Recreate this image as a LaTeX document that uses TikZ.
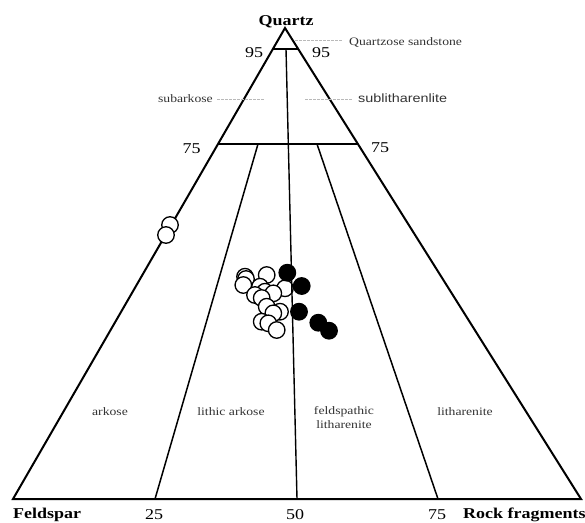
\documentclass[tikz,border=0pt]{standalone}
\usepackage{fontspec}
\setmainfont{Liberation Serif}[FakeStretch=1.2]
\newfontfamily\sansf{Liberation Sans}[FakeStretch=1.2]
\usetikzlibrary{calc}
\tikzset{
  edge/.style={line width=2pt, line join=miter},
  divider/.style={line width=1.5pt},
  leader/.style={gray!55, line width=0.6pt, dash pattern=on 3pt off 1pt},
  apexlbl/.style={font=\fontsize{15}{15}\selectfont\bfseries, inner sep=0pt},
  numlbl/.style={font=\fontsize{15}{15}\selectfont, inner sep=0pt},
  fieldlbl/.style={font=\fontsize{11.4}{13.5}\selectfont, text=black!80, inner sep=0pt, align=center},
  wpt/.style={circle, draw=black, fill=white, line width=1.3pt, minimum size=16.5pt, inner sep=0pt},
  bpt/.style={circle, draw=black, fill=black, line width=1.3pt, minimum size=16.5pt, inner sep=0pt}
}
\begin{document}
\begin{tikzpicture}[x=1pt,y=-1pt]
\useasboundingbox (0,0) rectangle (585,522);
% corners
\coordinate (Q) at (285,28);
\coordinate (F) at (13,499);
\coordinate (R) at (581,499);
\coordinate (q95l) at ($(Q)!0.0446!(F)$);
\coordinate (q95r) at ($(Q)!0.0446!(R)$);
\coordinate (q75l) at ($(Q)!0.2463!(F)$);
\coordinate (q75r) at ($(Q)!0.2463!(R)$);
\coordinate (m95) at (286,49);
\coordinate (m0) at (297,499);
\coordinate (a75) at (258,144);
\coordinate (a0) at (155,499);
\coordinate (b75) at (317,144);
\coordinate (b0) at (438,499);
% outline
\draw[edge] (Q) -- (F) -- (R) -- cycle;
\draw[divider] (q95l) -- (q95r);
\draw[divider] (q75l) -- (q75r);
\draw[divider] (a75) -- (a0);
\draw[divider] (b75) -- (b0);
% points
\node[wpt] (e1) at (170,225) {};
\node[wpt] (e2) at (166,235) {};
\node[wpt] (w1) at (266.7,275) {};
\node[wpt] (w2) at (245,276.7) {};
\node[wpt] (w3) at (246,279) {};
\node[wpt] (w4) at (243.3,285) {};
\node[wpt] (w5) at (260,286.7) {};
\node[wpt] (w6) at (285,288.3) {};
\node[wpt] (w7) at (265,291.7) {};
\node[wpt] (w8) at (273.3,293.3) {};
\node[wpt] (w9) at (255,295) {};
\node[wpt] (w10) at (261.7,298) {};
\node[wpt] (w11) at (266.7,306.7) {};
\node[wpt] (w12) at (280,311.7) {};
\node[wpt] (w13) at (273.3,313.3) {};
\node[wpt] (w14) at (261.7,321.7) {};
\node[wpt] (w15) at (268.3,323.3) {};
\node[wpt] (w16) at (276.7,330) {};
\node[bpt] (b1) at (287.3,272.7) {};
\node[bpt] (b2) at (301.7,286) {};
\node[bpt] (b3) at (299,311.7) {};
\node[bpt] (b4) at (318.3,322.7) {};
\node[bpt] (b5) at (329,330.7) {};
\draw[line width=1.4pt] (m95) -- (m0);
% leaders
\coordinate (l1a) at (295,40); \coordinate (l1b) at (343,40);
\coordinate (l2a) at (217,99); \coordinate (l2b) at (265,99);
\coordinate (l3a) at (305,99); \coordinate (l3b) at (353,99);
\draw[leader] (l1a) -- (l1b);
\draw[leader] (l2a) -- (l2b);
\draw[leader] (l3a) -- (l3b);
% labels
\node[apexlbl, anchor=base] (tQ) at (286,25) {Quartz};
\node[apexlbl, anchor=base west] (tF) at (13,518.5) {Feldspar};
\node[apexlbl, anchor=base west] (tR) at (463,518) {Rock fragments};
\node[numlbl, anchor=base] (n95l) at (254,57) {95};
\node[numlbl, anchor=base] (n95r) at (321,57) {95};
\node[numlbl, anchor=base] (n75l) at (191.5,153) {75};
\node[numlbl, anchor=base] (n75r) at (380,152) {75};
\node[numlbl, anchor=base] (n25) at (154,519.5) {25};
\node[numlbl, anchor=base] (n50) at (295,519.5) {50};
\node[numlbl, anchor=base] (n75b) at (437,519.5) {75};
\node[fieldlbl, anchor=base west] (tqs) at (349,45) {Quartzose sandstone};
\node[fieldlbl, anchor=base east] (tsa) at (213,102) {subarkose};
\node[fieldlbl, anchor=base west, font=\sansf\fontsize{12}{14}\selectfont] (tsl) at (358,102) {sublitharenlite};
\node[fieldlbl, anchor=base] (tar) at (110,415) {arkose};
\node[fieldlbl, anchor=base] (tla) at (231,415) {lithic arkose};
\node[fieldlbl, anchor=base] (tfl) at (344,414) {feldspathic};
\node[fieldlbl, anchor=base] (tfl2) at (344,428) {litharenite};
\node[fieldlbl, anchor=base] (tlt) at (465,415) {litharenite};
\end{tikzpicture}
\end{document}
